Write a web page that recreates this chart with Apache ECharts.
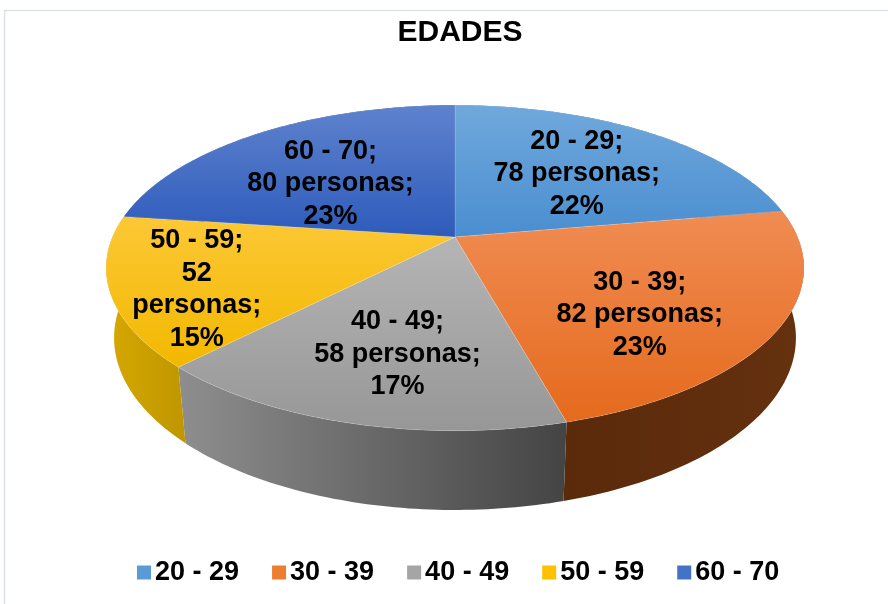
<!DOCTYPE html>
<html>
<head>
<meta charset="utf-8">
<style>
  html, body { margin: 0; padding: 0; background: #ffffff; }
  #chart { width: 888px; height: 604px; }
</style>
<script src="https://cdn.jsdelivr.net/npm/echarts@6/dist/echarts.min.js"></script>
</head>
<body>
<div id="chart"></div>
<script>
// ---- data ----
const categories = ['20 - 29', '30 - 39', '40 - 49', '50 - 59', '60 - 70'];
const personas = [78, 82, 58, 52, 80];
const chartTitle = 'EDADES';

// ---- styles / layout ----
const FONT = "'Liberation Sans', Arial, Helvetica, sans-serif";
const legendColors = ['#5b9bd5', '#ed7d31', '#a5a5a5', '#ffc000', '#4472c4'];
const topGrad = [
  ['#70a8dc', '#4a8ed0'],
  ['#f08c53', '#e56a1c'],
  ['#b5b5b5', '#979797'],
  ['#fcc836', '#f2b800'],
  ['#5e82cd', '#2e5bbb']
];
const wallGrad = [
  ['#3f76b0', '#2f5f95'],
  ['#5a2a0b', '#65310f'],
  ['#8e8e8e', '#444444'],
  ['#d6a800', '#bf9600'],
  ['#2b4f93', '#223f78']
];
const labelRadius = [0.6, 0.6, 0.6, 0.76, 0.6];
const labelDy = [3, 24, 15, 12, 12];
const labelWrap = [false, false, false, true, false];

// perspective projection of a tilted 3D disc
const CX = 455, CY = 237;         // screen point of disc centre
const FOC = 1603;                  // focal factor
const RAD = 0.2137;                // disc radius / camera distance
const DEPTH = 0.0494;              // disc thickness / camera distance
const SA = 0.458, CA = 0.8889;     // sin / cos of view elevation

function project(f, theta, bottom) {
  const rr = RAD * f;
  const hh = bottom ? DEPTH : 0;
  const d = 1 + hh * SA + rr * CA * Math.cos(theta);
  return [
    CX + FOC * rr * Math.sin(theta) / d,
    CY + FOC * (hh * CA - rr * SA * Math.cos(theta)) / d
  ];
}

const total = personas.reduce((a, b) => a + b, 0);
const starts = [], ends = [];
{
  let acc = 0;
  personas.forEach((v) => {
    starts.push(acc / total * Math.PI * 2);
    acc += v;
    ends.push(acc / total * Math.PI * 2);
  });
}

function arc(t1, t2, bottom) {
  const pts = [];
  const n = Math.max(4, Math.ceil((t2 - t1) / (Math.PI / 180)));
  for (let i = 0; i <= n; i++) {
    pts.push(project(1, t1 + (t2 - t1) * i / n, bottom));
  }
  return pts;
}

function grad(c, horizontal) {
  return new echarts.graphic.LinearGradient(0, 0, horizontal ? 1 : 0, horizontal ? 0 : 1, [
    { offset: 0, color: c[0] }, { offset: 1, color: c[1] }
  ]);
}

function renderItem(params, api) {
  const i = api.value(0);
  const t1 = starts[i], t2 = ends[i];
  const topArc = arc(t1, t2, false);
  const botArc = arc(t1, t2, true).reverse();
  const wall = {
    type: 'polygon',
    z2: 0,
    shape: { points: topArc.concat(botArc) },
    style: { fill: grad(wallGrad[i], true) }
  };
  const top = {
    type: 'polygon',
    z2: 10,
    shape: { points: [[CX, CY]].concat(topArc) },
    style: { fill: grad(topGrad[i], false), stroke: 'rgba(255,255,255,0.25)', lineWidth: 0.6 }
  };
  const mid = (t1 + t2) / 2;
  const lp = project(labelRadius[i], mid, false);
  const pct = Math.round(personas[i] / total * 100);
  let lines;
  if (labelWrap[i]) {
    lines = [categories[i] + ';', String(personas[i]), 'personas;', pct + '%'];
  } else {
    lines = [categories[i] + ';', personas[i] + ' personas;', pct + '%'];
  }
  const label = {
    type: 'text',
    z2: 20,
    x: lp[0],
    y: lp[1] + labelDy[i],
    style: {
      text: lines.join('\n'),
      fill: '#000000',
      font: 'bold 27px ' + FONT,
      fontSize: 27,
      fontWeight: 'bold',
      fontFamily: FONT,
      lineHeight: 32.5,
      align: 'center',
      verticalAlign: 'middle'
    }
  };
  return { type: 'group', children: [wall, top, label] };
}

const chart = echarts.init(document.getElementById('chart'), null, { renderer: 'canvas' });

const legendSeries = categories.map((c, i) => ({
  name: c,
  type: 'custom',
  coordinateSystem: 'none',
  data: [],
  itemStyle: { color: legendColors[i] },
  renderItem: () => null
}));

chart.setOption({
  animation: false,
  backgroundColor: '#ffffff',
  graphic: [
    {
      type: 'rect',
      shape: { x: 4.5, y: 10.5, width: 900, height: 620 },
      style: { fill: 'none', stroke: '#dde2ea', lineWidth: 1.5 },
      silent: true
    },
    {
      type: 'text',
      x: 460,
      y: 33,
      style: {
        text: chartTitle,
        fill: '#000000',
        font: 'bold 30px ' + FONT,
        fontSize: 30,
        fontWeight: 'bold',
        fontFamily: FONT,
        align: 'center',
        verticalAlign: 'middle'
      }
    }
  ],
  legend: {
    left: 137,
    top: 559,
    icon: 'rect',
    itemWidth: 14,
    itemHeight: 14,
    itemGap: 33,
    selectedMode: false,
    padding: 0,
    textStyle: { color: '#000', fontSize: 27, fontWeight: 'bold', fontFamily: FONT, padding: [0, 0, 0, -1] },
    data: categories.map((c, i) => ({ name: c, itemStyle: { color: legendColors[i] } }))
  },
  series: [
    {
      name: 'pie3d',
      type: 'custom',
      coordinateSystem: 'none',
      data: personas.map((v, i) => [i, v]),
      renderItem: renderItem,
      silent: true
    }
  ].concat(legendSeries)
});
</script>
</body>
</html>
